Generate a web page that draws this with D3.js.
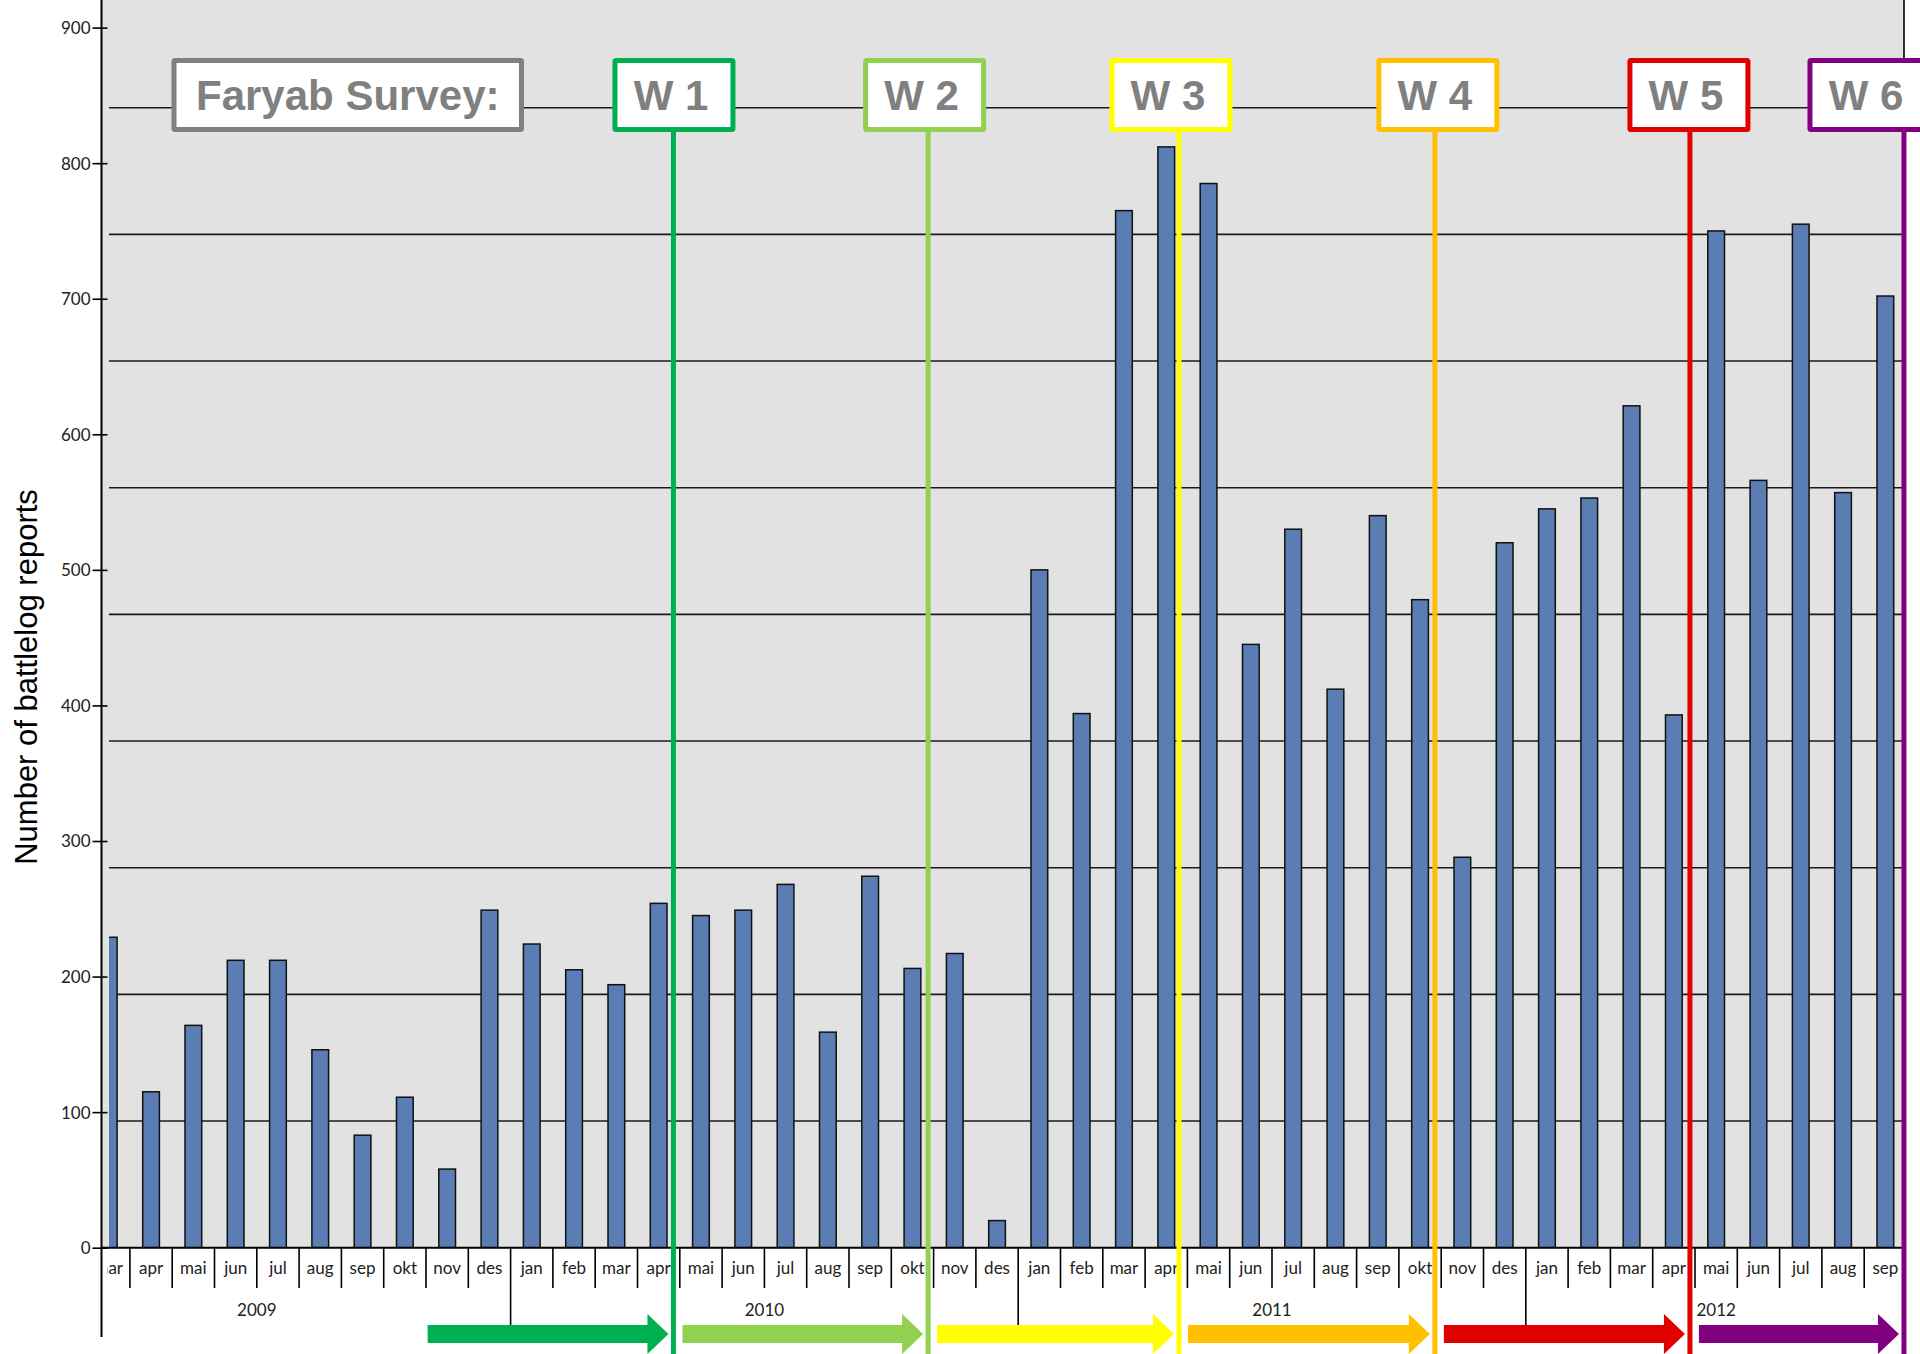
<!DOCTYPE html>
<html><head><meta charset="utf-8">
<script src="https://cdn.jsdelivr.net/npm/d3@7"></script>
<style>html,body{margin:0;padding:0;background:#fff;} svg{display:block;}</style>
</head><body><svg id="chart" width="1920" height="1354"></svg>
<script>
// ---------------- DATA ----------------
const monthLabels = ["mar","apr","mai","jun","jul","aug","sep","okt","nov","des",
  "jan","feb","mar","apr","mai","jun","jul","aug","sep","okt","nov","des",
  "jan","feb","mar","apr","mai","jun","jul","aug","sep","okt","nov","des",
  "jan","feb","mar","apr","mai","jun","jul","aug","sep"];
const monthYears = ["2009","2009","2009","2009","2009","2009","2009","2009","2009","2009",
  "2010","2010","2010","2010","2010","2010","2010","2010","2010","2010","2010","2010",
  "2011","2011","2011","2011","2011","2011","2011","2011","2011","2011","2011","2011",
  "2012","2012","2012","2012","2012","2012","2012","2012","2012"];
const reports = [229,115,164,212,212,146,83,111,58,249,
  224,205,194,254,245,249,268,159,274,206,217,20,
  500,394,765,812,785,445,530,412,540,478,288,520,
  545,553,621,393,750,566,755,557,702];
const yTicks = [0,100,200,300,400,500,600,700,800,900];
const yearLabels = ["2009","2010","2011","2012"];
const monthOrder = ["jan","feb","mar","apr","mai","jun","jul","aug","sep","okt","nov","des"];
const surveyTitle = "Faryab Survey:";
const waveLabels = ["W 1","W 2","W 3","W 4","W 5","W 6"];
const waveMonths = ["2010-apr","2010-okt","2011-apr","2011-okt","2012-apr","2012-sep"];
const waveMonthFraction = [0.85,0.87,0.80,0.85,0.88,0.94];
const waveColors = ["#00b050","#92d050","#ffff00","#ffc000","#e00000","#800080"];
const yTitle = "Number of battlelog reports";

// ---------------- LAYOUT ----------------
const W = 1920, H = 1354;
const axisX = 101.5, clipX = 109, rightX = 1904;
const yBottom = 1247.7, yTop900 = 27.6;
const bandStart = 87.6, bandEnd = 87.6 + 43 * 42.3;
const boxTop = 58, boxH = 74, boxW = 123, boxStroke = 5;
const boxOffsets = [0.5,-3.5,-8,3,-1,-35];

const keys = monthLabels.map((m,i) => monthYears[i] + "-" + m);
const svg = d3.select("#chart");
const x = d3.scaleBand().domain(keys).range([bandStart, bandEnd]).padding(0);
const step = x.step();
const y = d3.scaleLinear().domain([0, 900]).range([yBottom, yTop900]);
const gridScale = d3.scaleLinear().domain([0, 9]).range([yBottom, 107.7]);

const defs = svg.append("defs");
defs.append("clipPath").attr("id","plotClip").append("rect")
  .attr("x", clipX).attr("y", 0).attr("width", rightX - clipX).attr("height", yBottom);
defs.append("clipPath").attr("id","labelClip").append("rect")
  .attr("x", 107.5).attr("y", yBottom).attr("width", rightX - 107.5).attr("height", H - yBottom);

// background
svg.append("rect").attr("x", axisX).attr("y", 0).attr("width", rightX - axisX).attr("height", yBottom)
  .attr("fill", "#e2e2e2");

// gridlines (overlay grid)
svg.append("g").attr("clip-path","url(#plotClip)").selectAll("line")
  .data(d3.range(1, 10)).join("line")
  .attr("x1", clipX).attr("x2", rightX)
  .attr("y1", d => gridScale(d)).attr("y2", d => gridScale(d))
  .attr("stroke", "#1a1a1a").attr("stroke-width", 1.6);

// bars
const barW = step * 0.395;
svg.append("g").attr("clip-path","url(#plotClip)").selectAll("rect")
  .data(reports).join("rect")
  .attr("x", (d,i) => x(keys[i]) + (step - barW) / 2)
  .attr("y", d => y(d))
  .attr("width", barW)
  .attr("height", d => yBottom - y(d))
  .attr("fill", "#5a7db3").attr("stroke", "#111").attr("stroke-width", 1.5);

// y axis
const yAxis = d3.axisLeft(y).tickValues(yTicks).tickSize(0).tickPadding(0);
const gy = svg.append("g").attr("transform", `translate(${axisX},0)`).call(yAxis);
gy.select(".domain").remove();
gy.selectAll(".tick text").attr("x", -11).attr("dy", "0.35em")
  .attr("font-family", "Lato, 'Open Sans', sans-serif").attr("font-size", 17).attr("fill", "#222");
gy.selectAll(".tick").append("line").attr("x1", -9).attr("x2", 6).attr("stroke", "#000").attr("stroke-width", 1.6);
svg.append("line").attr("x1", axisX).attr("x2", axisX).attr("y1", 0).attr("y2", 1337)
  .attr("stroke", "#000").attr("stroke-width", 2);

// x axis line
svg.append("line").attr("x1", axisX).attr("x2", rightX).attr("y1", yBottom).attr("y2", yBottom)
  .attr("stroke", "#000").attr("stroke-width", 2);

// month labels
const gx = svg.append("g").attr("clip-path","url(#labelClip)");
gx.selectAll("text").data(keys).join("text")
  .attr("x", d => x(d) + step / 2).attr("y", 1274)
  .attr("text-anchor", "middle")
  .attr("font-family", "Lato, 'Open Sans', sans-serif").attr("font-size", 17).attr("fill", "#222")
  .text((d,i) => monthLabels[i]);

// month separators
const sepIdx = d3.range(1, keys.length);
svg.append("g").selectAll("line").data(sepIdx).join("line")
  .attr("x1", i => x(keys[i])).attr("x2", i => x(keys[i]))
  .attr("y1", yBottom).attr("y2", i => monthLabels[i] === "jan" ? 1337 : 1288)
  .attr("stroke", "#000").attr("stroke-width", 1.6);

// year labels
const yearPos = yearLabels.map(yr => {
  const idx = keys.map((k,i) => i).filter(i => monthYears[i] === yr);
  const first = idx[0], last = idx[idx.length - 1];
  const startIdx = first - monthOrder.indexOf(monthLabels[first]);
  return bandStart + step * (startIdx + last + 1) / 2;
});
svg.append("g").selectAll("text").data(yearLabels).join("text")
  .attr("x", (d,i) => yearPos[i]).attr("y", 1316)
  .attr("text-anchor", "middle")
  .attr("font-family", "Lato, 'Open Sans', sans-serif").attr("font-size", 17).attr("fill", "#222")
  .text(d => d);

// wave positions
const waveX = waveMonths.map((m,i) => x(m) + step * waveMonthFraction[i]);

// arrows
const shaftTop = 1325, shaftBot = 1343, headTop = 1314, headBot = 1354, headLen = 21;
const arrows = waveX.map((wx,i) => ({
  x0: i === 0 ? waveX[0] - 6 * step + 8 : waveX[i-1] + 9,
  x1: wx - 5, color: waveColors[i]
}));
svg.append("g").selectAll("path").data(arrows).join("path")
  .attr("d", a => {
    const hx = a.x1 - headLen, mid = (shaftTop + shaftBot) / 2;
    return `M${a.x0},${shaftTop}L${hx},${shaftTop}L${hx},${headTop}L${a.x1},${mid}L${hx},${headBot}L${hx},${shaftBot}L${a.x0},${shaftBot}Z`;
  })
  .attr("fill", a => a.color);

// right border
svg.append("line").attr("x1", rightX).attr("x2", rightX).attr("y1", 0).attr("y2", yBottom)
  .attr("stroke", "#000").attr("stroke-width", 1.6);

// wave lines
svg.append("g").selectAll("line").data(waveX).join("line")
  .attr("x1", d => d).attr("x2", d => d)
  .attr("y1", boxTop + boxH - 2).attr("y2", H)
  .attr("stroke", (d,i) => waveColors[i]).attr("stroke-width", 5);

// survey title box
const titleL = 171.5, titleR = 524;
svg.append("rect").attr("x", titleL + boxStroke/2).attr("y", boxTop + boxStroke/2)
  .attr("width", titleR - titleL - boxStroke).attr("height", boxH - boxStroke)
  .attr("fill", "#fff").attr("stroke", "#808080").attr("stroke-width", boxStroke).attr("rx", 1);
svg.append("text").attr("x", (titleL + titleR) / 2).attr("y", boxTop + boxH / 2 + 15)
  .attr("text-anchor", "middle")
  .attr("font-family", "'Liberation Sans', Arial, sans-serif").attr("font-weight", "bold")
  .attr("font-size", 42).attr("fill", "#808080").text(surveyTitle);

// wave boxes
const wb = svg.append("g").selectAll("g").data(waveLabels).join("g")
  .attr("transform", (d,i) => `translate(${waveX[i] + boxOffsets[i]},0)`);
wb.append("rect").attr("x", -boxW/2 + boxStroke/2).attr("y", boxTop + boxStroke/2)
  .attr("width", boxW - boxStroke).attr("height", boxH - boxStroke)
  .attr("fill", "#fff").attr("stroke", (d,i) => waveColors[i]).attr("stroke-width", boxStroke).attr("rx", 1);
wb.append("text").attr("x", -3).attr("y", boxTop + boxH / 2 + 15)
  .attr("text-anchor", "middle")
  .attr("font-family", "'Liberation Sans', Arial, sans-serif").attr("font-weight", "bold")
  .attr("font-size", 42).attr("fill", "#808080").text(d => d);

// y title
svg.append("text").attr("transform", "translate(37,677) rotate(-90)")
  .attr("text-anchor", "middle")
  .attr("font-family", "'Liberation Sans', Arial, sans-serif").attr("font-size", 31).attr("fill", "#000")
  .text(yTitle);
</script>
</body></html>
